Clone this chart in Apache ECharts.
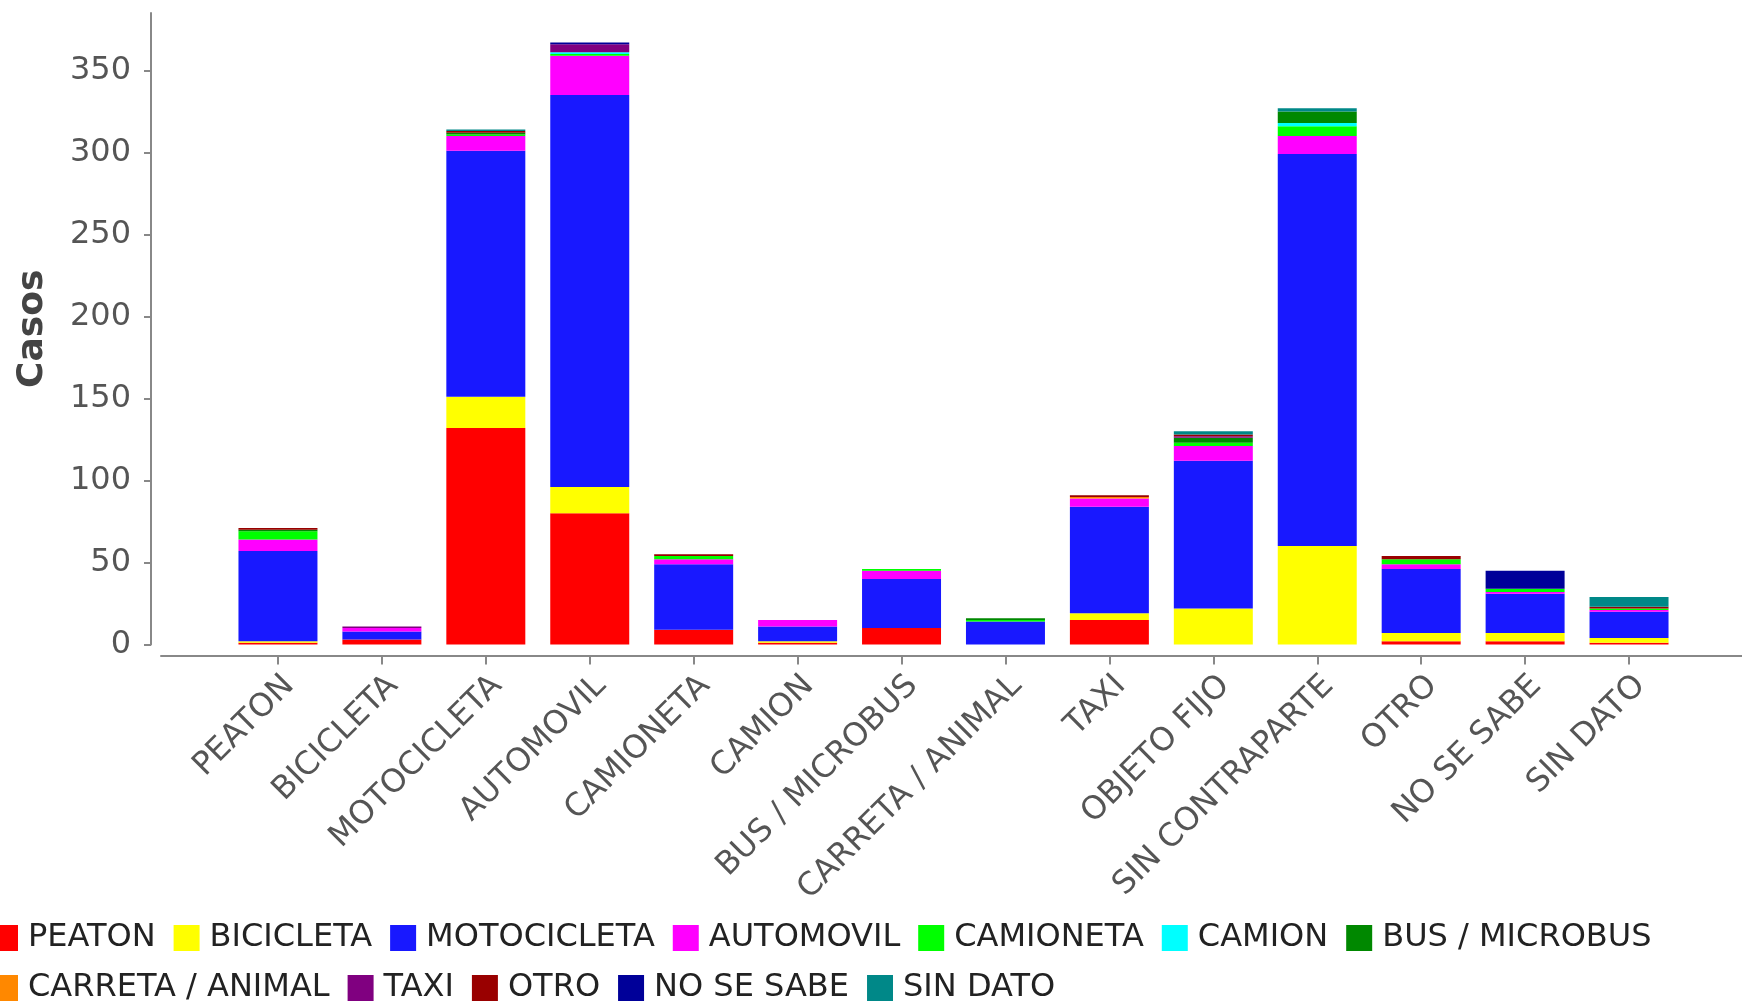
<!DOCTYPE html>
<html>
<head>
<meta charset="utf-8">
<script src="https://cdn.jsdelivr.net/npm/echarts@6/dist/echarts.min.js"></script>
<style>
html,body{margin:0;padding:0;background:#fff;}
#chart{width:1742px;height:1001px;}
</style>
</head>
<body>
<div id="chart"></div>
<script>
const categories = ['PEATON','BICICLETA','MOTOCICLETA','AUTOMOVIL','CAMIONETA','CAMION','BUS / MICROBUS','CARRETA / ANIMAL','TAXI','OBJETO FIJO','SIN CONTRAPARTE','OTRO','NO SE SABE','SIN DATO'];
const seriesNames = ['PEATON','BICICLETA','MOTOCICLETA','AUTOMOVIL','CAMIONETA','CAMION','BUS / MICROBUS','CARRETA / ANIMAL','TAXI','OTRO','NO SE SABE','SIN DATO'];
const seriesColors = ['#ff0000','#ffff00','#1818ff','#ff00ff','#00ff00','#00ffff','#008800','#ff8800','#800080','#990000','#000099','#008888'];

const peaton      = [1, 3, 132, 80, 9, 1, 10, 0, 15, 0, 0, 2, 2, 1];
const bicicleta   = [1, 0, 19, 16, 0, 1, 0, 0, 4, 22, 60, 5, 5, 3];
const motocicleta = [55, 5, 150, 239, 40, 9, 30, 14, 65, 90, 239, 39, 24, 16];
const automovil   = [7, 2, 9, 24, 3, 4, 5, 0, 5, 9, 11, 3, 1, 1];
const camioneta   = [5, 0, 1, 1, 2, 0, 1, 1, 0, 2, 6, 3, 2, 1];
const camion      = [0, 0, 0, 1, 0, 0, 0, 0, 0, 0, 2, 0, 0, 0];
const busMicrobus = [1, 0, 1, 0, 0, 0, 0, 1, 0, 3, 7, 0, 0, 0];
const carreta     = [0, 0, 0, 0, 0, 0, 0, 0, 1, 0, 0, 0, 0, 0];
const taxi        = [0, 1, 0, 5, 0, 0, 0, 0, 0, 1, 0, 0, 0, 0];
const otro        = [1, 0, 1, 0, 1, 0, 0, 0, 1, 1, 0, 2, 0, 1];
const noSeSabe    = [0, 0, 0, 1, 0, 0, 0, 0, 0, 0, 0, 0, 11, 0];
const sinDato     = [0, 0, 1, 0, 0, 0, 0, 0, 0, 2, 2, 0, 0, 6];

const yTicks = [0, 50, 100, 150, 200, 250, 300, 350];
const yMax = 385;

const seriesData = [peaton, bicicleta, motocicleta, automovil, camioneta, camion, busMicrobus, carreta, taxi, otro, noSeSabe, sinDato];

const FONT = 'DejaVu Sans';
const chart = echarts.init(document.getElementById('chart'), null, {renderer: 'canvas'});

const legendCommon = {
  orient: 'horizontal',
  left: -13,
  itemWidth: 26,
  itemHeight: 26,
  itemGap: 18,
  icon: 'rect',
  textStyle: {fontFamily: FONT, fontSize: 32, color: '#222', padding: [0, 0, 0, 5]}
};

const option = {
  animation: false,
  backgroundColor: '#fff',
  color: seriesColors,
  grid: [
    {left: 226, right: 61, top: 13, height: 631.5, containLabel: false},
    {left: 161, right: 0, top: 13, height: 631.5, containLabel: false}
  ],
  legend: [
    Object.assign({top: 917, data: seriesNames.slice(0, 7)}, legendCommon),
    Object.assign({top: 967, data: seriesNames.slice(7)}, legendCommon)
  ],
  xAxis: [
    {
      type: 'category', gridIndex: 0, data: categories, offset: 11,
      axisLine: {show: true, onZero: false, lineStyle: {color: '#888', width: 2}},
      axisTick: {show: true, alignWithLabel: true, length: 9, lineStyle: {color: '#888', width: 2}},
      axisLabel: {interval: 0, rotate: 45, margin: 14, verticalAlign: 'top', fontFamily: FONT, fontSize: 32, color: '#555'},
      splitLine: {show: false}
    },
    {
      type: 'value', gridIndex: 1, min: 0, max: 1, offset: 11,
      axisLine: {show: true, onZero: false, lineStyle: {color: '#888', width: 2}},
      axisTick: {show: false}, axisLabel: {show: false}, splitLine: {show: false}
    }
  ],
  yAxis: [
    {
      type: 'value', gridIndex: 0, min: 0, max: yMax, interval: 50, offset: 75,
      name: 'Casos', nameLocation: 'middle', nameGap: 100,
      nameTextStyle: {fontFamily: FONT, fontSize: 36, fontWeight: 'bold', color: '#444'},
      axisLine: {show: true, onZero: false, lineStyle: {color: '#888', width: 2}},
      axisTick: {show: true, length: 7, lineStyle: {color: '#888', width: 2}, customValues: yTicks},
      axisLabel: {margin: 20, fontFamily: FONT, fontSize: 32, color: '#555', customValues: yTicks},
      splitLine: {show: false}
    },
    {
      type: 'value', gridIndex: 1, min: 0, max: 1, show: false
    }
  ],
  series: seriesNames.map((name, i) => ({
    name: name,
    type: 'bar',
    stack: 'total',
    xAxisIndex: 0,
    yAxisIndex: 0,
    barCategoryGap: '24%',
    itemStyle: {color: seriesColors[i]},
    emphasis: {disabled: true},
    data: seriesData[i]
  }))
};
chart.setOption(option);
</script>
</body>
</html>
